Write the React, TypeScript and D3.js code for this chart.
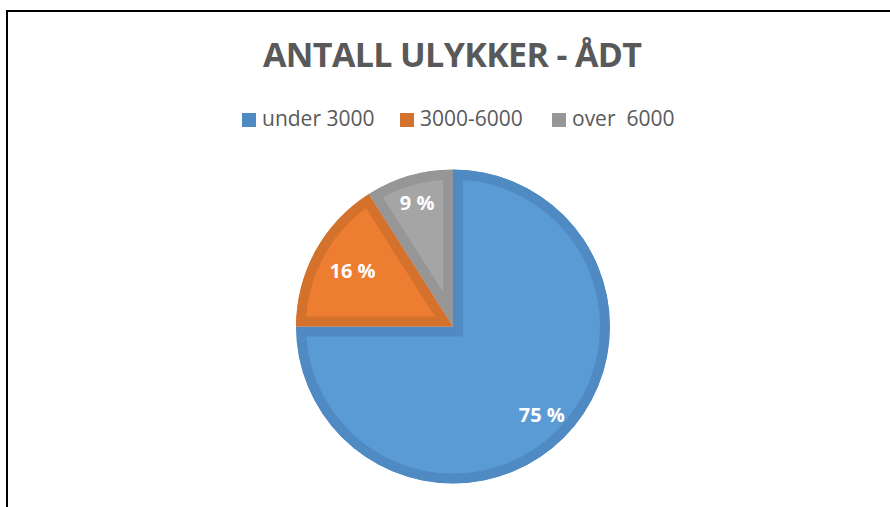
import React from "react";
import * as d3 from "d3";

const categories = ["under 3000", "3000-6000", "over  6000"];
const values = [75, 16, 9];
const labels = ["75 %", "16 %", "9 %"];
const fillColors = ["#5B9BD5", "#ED7D31", "#A5A5A5"];
const edgeColors = ["#4F8AC2", "#D4712D", "#969696"];
const labelRadiusFactors = [0.8, 0.73, 0.82];

const W = 890;
const H = 507;
const cx = 453;
const cy = 326.5;
const R = 157;
const BORDER = 10;

const legendX = [242, 400, 552];

export default function App() {
  const pie = d3.pie<number>().sort(null).value((d) => d);
  const arcs = pie(values);
  const arcGen = d3.arc<d3.PieArcDatum<number>>().innerRadius(0).outerRadius(R);

  return (
    <svg
      width={W}
      height={H}
      style={{ position: "absolute", left: 0, top: 0, display: "block" }}
      fontFamily="'Open Sans', sans-serif"
    >
      <rect x={0} y={0} width={W} height={H} fill="#fff" />
      <path d={`M7,${H} L7,11 L${W},11`} fill="none" stroke="#000" strokeWidth={2} />
      <text
        x={452.5}
        y={67}
        textAnchor="middle"
        fontSize={34}
        fontWeight="bold"
        fill="#595959"
        textLength={379}
        lengthAdjust="spacing"
      >
        ANTALL ULYKKER - ÅDT
      </text>
      {categories.map((c, i) => (
        <g key={c}>
          <rect x={legendX[i]} y={113} width={14} height={14} fill={edgeColors[i]} />
          <text
            x={legendX[i] + 20}
            y={126}
            fontSize={21}
            fill="#595959"
            style={{ whiteSpace: "pre" }}
          >
            {c}
          </text>
        </g>
      ))}
      <defs>
        {arcs.map((a, i) => (
          <clipPath id={`clip${i}`} key={i}>
            <path d={arcGen(a) || ""} transform={`translate(${cx},${cy})`} />
          </clipPath>
        ))}
      </defs>
      {arcs.map((a, i) => (
        <g key={i} clipPath={`url(#clip${i})`}>
          <path
            d={arcGen(a) || ""}
            transform={`translate(${cx},${cy})`}
            fill={fillColors[i]}
            stroke={edgeColors[i]}
            strokeWidth={BORDER * 2}
            strokeLinejoin="miter"
          />
        </g>
      ))}
      {arcs.map((a, i) => {
        const mid = (a.startAngle + a.endAngle) / 2;
        const r = R * labelRadiusFactors[i];
        const x = cx + r * Math.sin(mid);
        const y = cy - r * Math.cos(mid);
        return (
          <text
            key={i}
            x={x}
            y={y + 7}
            textAnchor="middle"
            fontSize={20}
            fontWeight="bold"
            fill="#fff"
          >
            {labels[i]}
          </text>
        );
      })}
    </svg>
  );
}
